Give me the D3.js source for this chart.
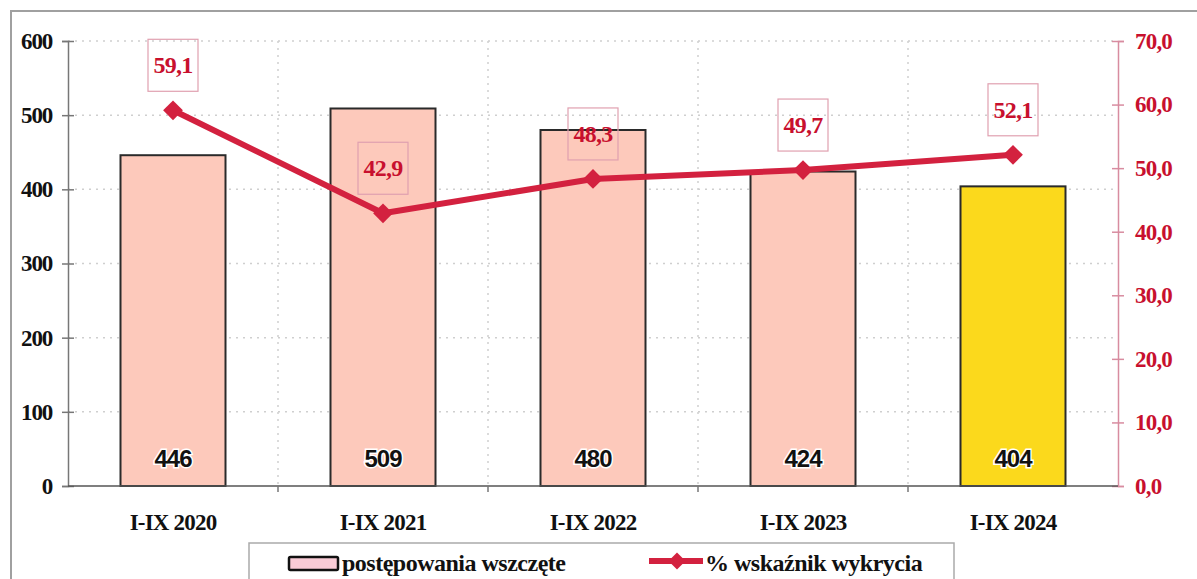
<!DOCTYPE html>
<html><head><meta charset="utf-8">
<script src="https://cdn.jsdelivr.net/npm/d3@7/dist/d3.min.js"></script>
<style>body{margin:0;background:#fff}svg{display:block}</style>
</head><body>
<svg id="c" width="1197" height="579"></svg>
<script>
const categories = ["I-IX 2020","I-IX 2021","I-IX 2022","I-IX 2023","I-IX 2024"];
const cases = [446, 509, 480, 424, 404];
const rate = [59.1, 42.9, 48.3, 49.7, 52.1];
const leftTicks = [0,100,200,300,400,500,600];
const rightTicks = [0,10,20,30,40,50,60,70];
const barColors = ["#fdc9bb","#fdc9bb","#fdc9bb","#fdc9bb","#fbd91c"];
const legendLabels = ["postępowania wszczęte","% wskaźnik wykrycia"];

const svg = d3.select("#c");
const L = 68, R = 1118, T = 41, B = 486;
const x = d3.scaleBand().domain(categories).range([L, R]).paddingInner(0).paddingOuter(0);
const yL = d3.scaleLinear().domain([0, 600]).range([B, T]);
const yR = d3.scaleLinear().domain([0, 70]).range([B, T]);
const red = "#c8102e";
const lineRed = "#d3213f";
const serif = "Liberation Serif, Times New Roman, serif";
const fmt = v => d3.format(".1f")(v).replace(".", ",");

// outer frame
svg.append("rect").attr("x",11).attr("y",11).attr("width",1200).attr("height",600)
  .attr("fill","none").attr("stroke","#a0a0a0").attr("stroke-width",2);

// horizontal grid
svg.append("g").selectAll("line").data(leftTicks.filter(d=>d>0)).join("line")
  .attr("x1",L).attr("x2",R).attr("y1",d=>yL(d)).attr("y2",d=>yL(d))
  .attr("stroke","#cfcfcf").attr("stroke-width",1.5).attr("stroke-dasharray","2,5");
// vertical grid at band boundaries
svg.append("g").selectAll("line").data(categories.slice(1)).join("line")
  .attr("x1",d=>x(d)).attr("x2",d=>x(d)).attr("y1",T).attr("y2",B)
  .attr("stroke","#cfcfcf").attr("stroke-width",1.5).attr("stroke-dasharray","2,5");

// bars
const bw = x.bandwidth()*0.5;
svg.append("g").selectAll("rect").data(cases).join("rect")
  .attr("x",(d,i)=>x(categories[i])+x.bandwidth()/2-bw/2)
  .attr("y",d=>yL(d)).attr("width",bw).attr("height",d=>B-yL(d))
  .attr("fill",(d,i)=>barColors[i]).attr("stroke","#2a2a2a").attr("stroke-width",2);

// bar value labels
svg.append("g").selectAll("text").data(cases).join("text")
  .attr("x",(d,i)=>x(categories[i])+x.bandwidth()/2).attr("y",467)
  .attr("text-anchor","middle").attr("font-family","Liberation Sans, Arial, sans-serif")
  .attr("font-weight","bold").attr("font-size",24).attr("letter-spacing","-1").attr("fill","#111")
  .attr("stroke","#fff").attr("stroke-width",3).attr("paint-order","stroke")
  .text(d=>d);

// left axis
const gL = svg.append("g").attr("transform",`translate(${L},0)`)
  .call(d3.axisLeft(yL).tickValues(leftTicks).tickSize(6).tickPadding(10).tickFormat(d3.format("d")));
gL.select(".domain").attr("stroke","#777").attr("stroke-width",1.5);
gL.selectAll(".tick line").attr("stroke","#777").attr("stroke-width",1.5).attr("x1",6).attr("x2",-6);
gL.selectAll(".tick text").attr("font-family",serif)
  .attr("font-weight","bold").attr("font-size",23).attr("fill","#111").attr("letter-spacing","-1.2");

// right axis
const gR = svg.append("g").attr("transform",`translate(${R},0)`)
  .call(d3.axisRight(yR).tickValues(rightTicks).tickSize(6).tickPadding(11).tickFormat(fmt));
gR.select(".domain").attr("stroke","#d88ca0").attr("stroke-width",1.5);
gR.selectAll(".tick line").attr("stroke","#d88ca0").attr("stroke-width",1.5).attr("x1",-6).attr("x2",6);
gR.selectAll(".tick text").attr("font-family",serif)
  .attr("font-weight","bold").attr("font-size",23).attr("fill",red).attr("letter-spacing","-0.8");

// bottom baseline
svg.append("line").attr("x1",L).attr("x2",R).attr("y1",B).attr("y2",B).attr("stroke","#555").attr("stroke-width",1.5);
svg.append("g").selectAll("line").data(categories.slice(1)).join("line")
  .attr("x1",d=>x(d)).attr("x2",d=>x(d)).attr("y1",B).attr("y2",B+6).attr("stroke","#777").attr("stroke-width",1.5);

// category labels
svg.append("g").selectAll("text").data(categories).join("text")
  .attr("x",d=>x(d)+x.bandwidth()/2).attr("y",530).attr("text-anchor","middle")
  .attr("font-family",serif).attr("font-weight","bold")
  .attr("font-size",23).attr("letter-spacing","-0.8").attr("fill","#111").text(d=>d);

// line
const cx = (d,i)=>x(categories[i])+x.bandwidth()/2;
svg.append("path").datum(rate)
  .attr("d", d3.line().x(cx).y(d=>yR(d)))
  .attr("fill","none").attr("stroke",lineRed).attr("stroke-width",6).attr("stroke-linejoin","round");
svg.append("g").selectAll("path").data(rate).join("path")
  .attr("transform",(d,i)=>`translate(${cx(d,i)},${yR(d)}) rotate(45)`)
  .attr("d","M-7,-7H7V7H-7Z").attr("fill",lineRed);

// data labels boxes
const lg = svg.append("g").selectAll("g").data(rate).join("g")
  .attr("transform",(d,i)=>`translate(${cx(d,i)},${yR(d)-45})`);
lg.append("rect").attr("x",-25).attr("y",-26).attr("width",50).attr("height",52)
  .attr("fill","none").attr("stroke","#e0a0b0").attr("stroke-width",1.2);
lg.append("text").attr("text-anchor","middle").attr("y",8)
  .attr("font-family",serif).attr("font-weight","bold")
  .attr("font-size",24).attr("letter-spacing","-0.8").attr("fill",red).text(d=>fmt(d));

// legend
svg.append("rect").attr("x",249).attr("y",543).attr("width",705).attr("height",60)
  .attr("fill","#fff").attr("stroke","#aaa").attr("stroke-width",1.5);
svg.append("rect").attr("x",289).attr("y",557).attr("width",49).attr("height",13)
  .attr("fill","#f9cbd6").attr("stroke","#111").attr("stroke-width",2.5).attr("rx",1.5);
svg.append("text").attr("x",342).attr("y",571)
  .attr("font-family",serif).attr("font-weight","bold")
  .attr("font-size",24).attr("letter-spacing","-0.5").attr("fill","#111").text(legendLabels[0]);
svg.append("line").attr("x1",649).attr("x2",703).attr("y1",561).attr("y2",561)
  .attr("stroke",lineRed).attr("stroke-width",6);
svg.append("path").attr("transform","translate(677,561) rotate(45)").attr("d","M-6,-6H6V6H-6Z").attr("fill",lineRed);
svg.append("text").attr("x",705).attr("y",571)
  .attr("font-family",serif).attr("font-weight","bold")
  .attr("font-size",24).attr("letter-spacing","-0.5").attr("fill","#111").text(legendLabels[1]);
</script>
</body></html>
